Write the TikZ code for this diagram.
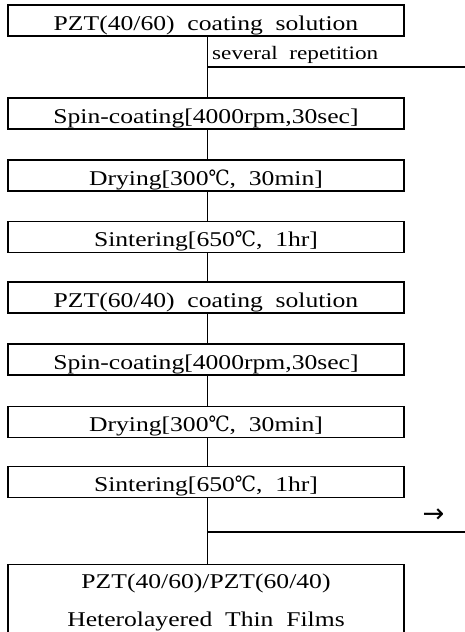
\documentclass[tikz,border=0pt]{standalone}
\usepackage{fontspec}
\setmainfont{Liberation Serif}[FakeStretch=1.22]
\newfontfamily\symfont{DejaVu Serif}[FakeStretch=0.9]
\newfontfamily\arrfont{DejaVu Sans}
\newcommand{\degC}{{\symfont ℃}}
\begin{document}
\begin{tikzpicture}[x=1pt,y=-1pt,
  stepbox/.style={draw,line width=1.1pt,minimum width=396pt,minimum height=31pt,inner sep=0pt,
    text height=25pt,text depth=6pt,font=\fontsize{21}{25}\selectfont},
  bigbox/.style={draw,line width=1.1pt,minimum width=396pt,minimum height=74pt,inner sep=0pt,anchor=north},
  conn/.style={line width=0.9pt},
  lbl/.style={font=\fontsize{21}{25}\selectfont,inner sep=0pt,anchor=base},
  rlbl/.style={font=\fontsize{19}{23}\selectfont,inner sep=0pt,anchor=base west}]
\useasboundingbox (0,0) rectangle (465,632);
\clip (0,0) rectangle (465,632);
\node[stepbox] (b1) at (206,20.5) {PZT(40/60)\ \ coating\ \ solution};
\node[stepbox] (b2) at (206,113.5) {Spin-coating[4000rpm,30sec]};
\node[stepbox] (b3) at (206,175.5) {Drying[300\degC,\ \ 30min]};
\node[stepbox] (b4) at (206,237) {Sintering[650\degC,\ \ 1hr]};
\node[stepbox] (b5) at (206,297.5) {PZT(60/40)\ \ coating\ \ solution};
\node[stepbox] (b6) at (206,359.5) {Spin-coating[4000rpm,30sec]};
\node[stepbox] (b7) at (206,422) {Drying[300\degC,\ \ 30min]};
\node[stepbox] (b8) at (206,482) {Sintering[650\degC,\ \ 1hr]};
\node[bigbox] (b9) at (206,564) {};
\node[lbl] (t9a) at (206,588) {PZT(40/60)/PZT(60/40)};
\node[lbl] (t9b) at (206,626) {Heterolayered\ \ Thin\ \ Films};
\coordinate (r1) at (207,67);
\coordinate (r1e) at (465,67);
\coordinate (r2) at (207,532);
\coordinate (r2e) at (465,532);
\draw[conn] (b1.south -| r1) -- (b2.north -| r1);
\draw[conn] (b2.south -| r1) -- (b3.north -| r1);
\draw[conn] (b3.south -| r1) -- (b4.north -| r1);
\draw[conn] (b4.south -| r1) -- (b5.north -| r1);
\draw[conn] (b5.south -| r1) -- (b6.north -| r1);
\draw[conn] (b6.south -| r1) -- (b7.north -| r1);
\draw[conn] (b7.south -| r1) -- (b8.north -| r1);
\draw[conn] (b8.south -| r1) -- (b9.north -| r1);
\draw[line width=1.4pt] (r1) -- (r1e);
\draw[line width=1.4pt] (r2) -- (r2e);
\node[rlbl] (rep) at (212,59) {several\ \ repetition};
\node[inner sep=0pt,font=\fontsize{26}{30}\selectfont] (arr) at (433.5,516) {{\arrfont →}};
\end{tikzpicture}
\end{document}
